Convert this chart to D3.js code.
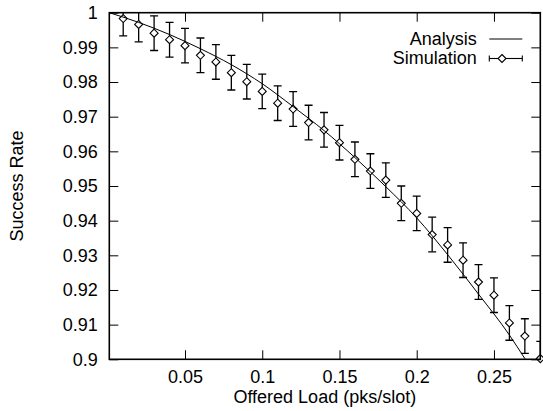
<!DOCTYPE html>
<html>
<head>
<meta charset="utf-8">
<script src="https://cdn.jsdelivr.net/npm/d3@7"></script>
<style>
  body { margin: 0; background: #fff; }
  svg { display: block; font-family: "Liberation Sans", Arial, sans-serif; }
</style>
</head>
<body>
<svg id="chart"></svg>
<script>
// Data
let simX = [0.01, 0.02, 0.03, 0.04, 0.05, 0.06, 0.07, 0.08, 0.09, 0.10,
            0.11, 0.12, 0.13, 0.14, 0.15, 0.16, 0.17, 0.18, 0.19, 0.20,
            0.21, 0.22, 0.23, 0.24, 0.25, 0.26, 0.27, 0.28];
let simY = [0.9983, 0.9966, 0.9941, 0.9922, 0.9905, 0.9877, 0.9858, 0.9827, 0.9801, 0.9773,
            0.9739, 0.9722, 0.9683, 0.9662, 0.9625, 0.9577, 0.9543, 0.9517, 0.9450, 0.9421,
            0.9360, 0.9330, 0.9286, 0.9223, 0.9185, 0.9105, 0.9067, 0.9002];
let simErr = [0.005, 0.005, 0.005, 0.005, 0.005, 0.005, 0.005, 0.005, 0.005, 0.005,
              0.005, 0.005, 0.005, 0.005, 0.005, 0.005, 0.005, 0.005, 0.005, 0.005,
              0.005, 0.005, 0.005, 0.005, 0.005, 0.005, 0.005, 0.005];

let anaX = [0.001, 0.02, 0.04, 0.06, 0.08, 0.10, 0.12, 0.14, 0.16, 0.18,
            0.20, 0.22, 0.24, 0.26, 0.27, 0.28];
let anaY = [1.0, 0.9972, 0.9937, 0.9896, 0.9850, 0.9795, 0.9729, 0.9660, 0.9582, 0.9498,
            0.9408, 0.9302, 0.9188, 0.9070, 0.9002, 0.8935];

let xTicks = [0.05, 0.1, 0.15, 0.2, 0.25];
let xTickLabels = ["0.05", "0.1", "0.15", "0.2", "0.25"];
let yTicks = [0.9, 0.91, 0.92, 0.93, 0.94, 0.95, 0.96, 0.97, 0.98, 0.99, 1];
let yTickLabels = ["0.9", "0.91", "0.92", "0.93", "0.94", "0.95", "0.96", "0.97", "0.98", "0.99", "1"];

let legendLabels = ["Analysis", "Simulation"];

// Layout
let width = 543;
let height = 411;
let plotLeft = 109.3, plotRight = 540.3, plotTop = 12.7, plotBottom = 359.3;
let fontSize = 18;

let svg = d3.select("#chart").attr("width", width).attr("height", height);

let xScale = d3.scaleLinear().domain([0.001, 0.28]).range([plotLeft, plotRight]);
let yScale = d3.scaleLinear().domain([0.9, 1]).range([plotBottom, plotTop]);

svg.append("defs").append("clipPath").attr("id", "plot-clip")
  .append("rect")
  .attr("x", plotLeft).attr("y", plotTop)
  .attr("width", plotRight - plotLeft).attr("height", plotBottom - plotTop);

// Axes (ticks pointing inward, mirrored)
let fmtX = (d) => xTickLabels[xTicks.indexOf(d)];
let fmtY = (d) => yTickLabels[yTicks.indexOf(d)];

let styleAxis = (g) => {
  g.select(".domain").remove();
  g.selectAll(".tick line").attr("stroke", "#000").attr("stroke-width", 1);
  g.selectAll(".tick text")
    .attr("fill", "#000")
    .style("font-size", fontSize + "px")
    .style("font-family", "'Liberation Sans', Arial, sans-serif");
};

svg.append("g")
  .attr("transform", "translate(0," + plotBottom + ")")
  .call(d3.axisBottom(xScale).tickValues(xTicks).tickFormat(fmtX)
    .tickSizeInner(-9).tickSizeOuter(0).tickPadding(11))
  .call(styleAxis);

svg.append("g")
  .attr("transform", "translate(0," + plotTop + ")")
  .call(d3.axisTop(xScale).tickValues(xTicks).tickFormat("")
    .tickSizeInner(-9).tickSizeOuter(0))
  .call(styleAxis);

svg.append("g")
  .attr("transform", "translate(" + plotLeft + ",0)")
  .call(d3.axisLeft(yScale).tickValues(yTicks).tickFormat(fmtY)
    .tickSizeInner(-9).tickSizeOuter(0).tickPadding(11.5))
  .call(styleAxis);

svg.append("g")
  .attr("transform", "translate(" + plotRight + ",0)")
  .call(d3.axisRight(yScale).tickValues(yTicks).tickFormat("")
    .tickSizeInner(-9).tickSizeOuter(0))
  .call(styleAxis);

// Border
svg.append("rect")
  .attr("x", plotLeft).attr("y", plotTop)
  .attr("width", plotRight - plotLeft).attr("height", plotBottom - plotTop)
  .attr("fill", "none").attr("stroke", "#000").attr("stroke-width", 1.6);

// Axis titles
svg.append("text")
  .attr("x", (plotLeft + plotRight) / 2).attr("y", 403.3)
  .attr("text-anchor", "middle")
  .style("font-size", fontSize + "px")
  .text("Offered Load (pks/slot)");

svg.append("text")
  .attr("transform", "translate(22.5," + (plotTop + plotBottom) / 2 + ") rotate(-90)")
  .attr("text-anchor", "middle")
  .style("font-size", fontSize + "px")
  .text("Success Rate");

// Analysis line
let anaData = anaX.map((x, i) => ({ x: x, y: anaY[i] }));
let line = d3.line()
  .x((d) => xScale(d.x))
  .y((d) => yScale(d.y))
  .curve(d3.curveMonotoneX);

svg.append("path")
  .datum(anaData)
  .attr("clip-path", "url(#plot-clip)")
  .attr("d", line)
  .attr("fill", "none")
  .attr("stroke", "#000")
  .attr("stroke-width", 1);

// Simulation with error bars
let simData = simX.map((x, i) => ({ x: x, y: simY[i], e: simErr[i] }));
let pr = 4;    // diamond half-size
let cap = 4;   // cap half-width

let bars = svg.append("g")
  .attr("clip-path", "url(#plot-clip)")
  .attr("stroke", "#000")
  .attr("stroke-width", 1.3);

simData.forEach((d) => {
  let cx = xScale(d.x);
  let cy = yScale(d.y);
  let yHi = yScale(d.y + d.e);
  let yLo = yScale(d.y - d.e);
  bars.append("line").attr("x1", cx).attr("x2", cx).attr("y1", yHi).attr("y2", cy - pr);
  bars.append("line").attr("x1", cx).attr("x2", cx).attr("y1", cy + pr).attr("y2", yLo);
  bars.append("line").attr("x1", cx - cap).attr("x2", cx + cap).attr("y1", yHi).attr("y2", yHi);
  bars.append("line").attr("x1", cx - cap).attr("x2", cx + cap).attr("y1", yLo).attr("y2", yLo);
});

let diamond = (cx, cy) =>
  "M" + cx + "," + (cy - pr) + "L" + (cx + pr) + "," + cy +
  "L" + cx + "," + (cy + pr) + "L" + (cx - pr) + "," + cy + "Z";

svg.append("g")
  .selectAll("path")
  .data(simData)
  .enter()
  .append("path")
  .attr("d", (d) => diamond(xScale(d.x), yScale(d.y)))
  .attr("fill", "none")
  .attr("stroke", "#000")
  .attr("stroke-width", 1.1);

// Legend
let legendTextX = 476.7;
let sampleX1 = 489.3, sampleX2 = 522.3;

svg.append("text")
  .attr("x", legendTextX).attr("y", 45)
  .attr("text-anchor", "end")
  .style("font-size", fontSize + "px")
  .text(legendLabels[0]);

svg.append("line")
  .attr("x1", sampleX1).attr("x2", sampleX2)
  .attr("y1", 39).attr("y2", 39)
  .attr("stroke", "#000").attr("stroke-width", 1);

svg.append("text")
  .attr("x", legendTextX).attr("y", 64)
  .attr("text-anchor", "end")
  .style("font-size", fontSize + "px")
  .text(legendLabels[1]);

let ly = 58.5;
let lmx = 502;
let leg = svg.append("g").attr("stroke", "#000").attr("stroke-width", 1.1);
leg.append("line").attr("x1", sampleX1).attr("x2", lmx - pr).attr("y1", ly).attr("y2", ly);
leg.append("line").attr("x1", lmx + pr).attr("x2", sampleX2).attr("y1", ly).attr("y2", ly);
leg.append("line").attr("x1", sampleX1).attr("x2", sampleX1).attr("y1", ly - 3).attr("y2", ly + 3);
leg.append("line").attr("x1", sampleX2).attr("x2", sampleX2).attr("y1", ly - 3).attr("y2", ly + 3);
leg.append("path").attr("d", diamond(lmx, ly)).attr("fill", "none");
</script>
</body>
</html>
